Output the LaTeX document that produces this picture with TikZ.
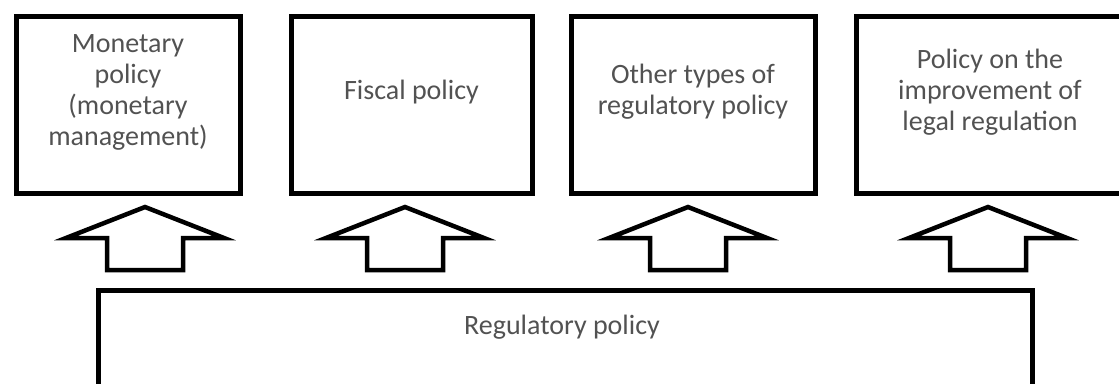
\documentclass[tikz,border=0pt]{standalone}
\usepackage{fontspec}
\setmainfont{Carlito}
\newcommand\colorFrame{black}
\newcommand\colorCaption{black!68}
\newcommand\arrowTip{207}
\newcommand\arrowHead{31}
\newcommand\arrowShaft{32}
\newcommand\arrowHalfHead{79}
\newcommand\arrowHalfShaft{38}
\newcommand\drawPolicyArrow[1]{
	\draw[line width=4.5pt, color=\colorFrame]
	(#1,\arrowTip) to
	++(\arrowHalfHead,\arrowHead) to
	++(\arrowHalfShaft-\arrowHalfHead,0) to
	++(0,\arrowShaft) to
	++(-2*\arrowHalfShaft,0) to
	++(0,-\arrowShaft) to
	++(\arrowHalfShaft-\arrowHalfHead,0) to
	cycle;
}

\begin{document}
\begin{tikzpicture}[x=1pt, y=-1pt,
	policybox/.style={draw=\colorFrame, line width=5pt, outer sep=0pt, minimum height=177pt},
	caption/.style={align=center, inner sep=0pt, text=\colorCaption, font=\fontsize{28}{31}\selectfont}]
	\useasboundingbox (0,0) rectangle (1119,383);
	\clip (0,0) rectangle (1119,383);

	% four kinds of policy
	\foreach \name/\cx/\w/\txt in {
		monetary/128/224/{Monetary\\policy\\(monetary\\management)},
		fiscal/411.5/241/{Fiscal policy},
		other/693/244/{Other types of\\regulatory policy},
		legal/990/268/{Policy on the\\improvement of\\legal regulation}}{
		\node[policybox, minimum width=\w pt] (\name) at (\cx,104.5) {};
		\node[caption] (\name-text) at ([yshift=12.5pt]\name.center) {\txt};
	}

	% common base
	\node[policybox, minimum width=934pt, minimum height=200pt, anchor=north west] (regulatory) at (98,290) {};
	\node[caption] (regulatory-text) at (562,327) {Regulatory policy};

	\foreach \x in {145,405,688,988}{
		\drawPolicyArrow{\x}
	}
\end{tikzpicture}
\end{document}
